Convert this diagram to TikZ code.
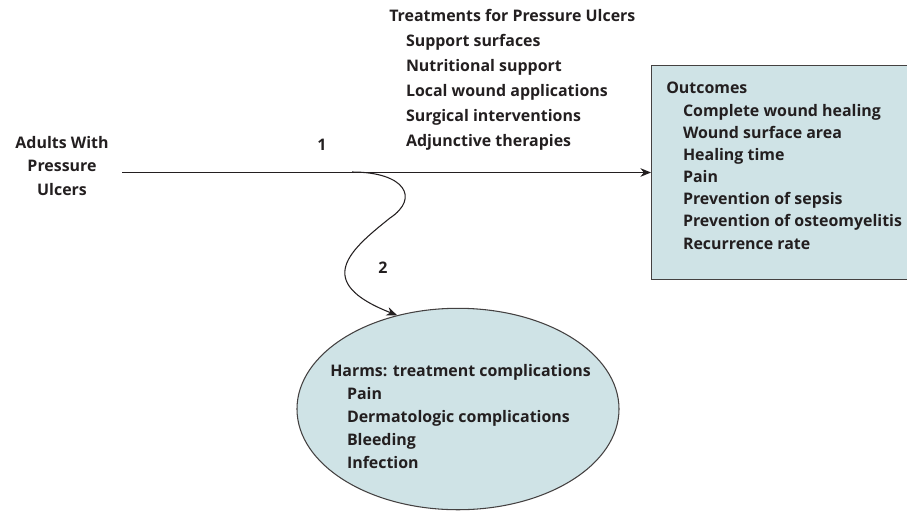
\documentclass[tikz,border=0pt]{standalone}
\usepackage{fontspec}
\setmainfont{Open Sans}
\usetikzlibrary{arrows.meta,shapes.geometric}
\definecolor{boxfill}{RGB}{207,227,230}
\definecolor{ink}{RGB}{35,31,32}
\tikzstyle{box}=[draw=ink!85, fill=boxfill, line width=0.8pt]
\tikzstyle{list}=[align=left, inner sep=0pt, anchor=north west, text=ink]
\tikzstyle{arr}=[-{Stealth[length=8pt,width=6.5pt]}, line width=0.8pt, draw=ink]
\newcommand{\subitm}[1]{\hspace*{1.05em}#1}
\newcommand{\txt}[1]{\fontsize{12}{#1}\selectfont\bfseries}

\begin{document}
\begin{tikzpicture}[x=0.02646cm, y=-0.02646cm]
	\useasboundingbox (0,0) rectangle (907,516);

	% population
	\node[align=center, text=ink, minimum width=3.18cm, inner sep=0pt, font=\txt{17.6}]
		(adults) at (62,166) {Adults With\\Pressure\\Ulcers};

	% treatments
	\node[list, font=\txt{18.8}] (treat) at (389,9)
		{Treatments for Pressure Ulcers\\
		 \subitm{Support surfaces}\\
		 \subitm{Nutritional support}\\
		 \subitm{Local wound applications}\\
		 \subitm{Surgical interventions}\\
		 \subitm{Adjunctive therapies}};

	% outcomes
	\node[box, anchor=north west, minimum width=6.99cm, minimum height=5.66cm]
		(outcomes) at (651,65) {};
	\node[list, font=\txt{16.7}] (outlist) at (666,82)
		{Outcomes\\
		 \subitm{Complete wound healing}\\
		 \subitm{Wound surface area}\\
		 \subitm{Healing time}\\
		 \subitm{Pain}\\
		 \subitm{Prevention of sepsis}\\
		 \subitm{Prevention of osteomyelitis}\\
		 \subitm{Recurrence rate}};

	% harms
	\node[box, ellipse, minimum width=8.52cm, minimum height=5.33cm]
		(harms) at (458,409) {};
	\node[list, font=\txt{17.4}] (harmlist) at (330,364)
		{Harms: treatment complications\\
		 \subitm{Pain}\\
		 \subitm{Dermatologic complications}\\
		 \subitm{Bleeding}\\
		 \subitm{Infection}};

	% key questions
	\node[text=ink, font=\txt{14}] (one) at (322,145) {1};
	\node[text=ink, font=\txt{14}] (two) at (383,268) {2};

	\coordinate (split) at (352,172);
	\draw[arr] (adults.east |- outcomes.west) -- (outcomes.west);
	\draw[arr] (split) .. controls (405,172) and (420,198) .. (390,218)
		.. controls (350,250) and (312,282) .. (harms.123);
\end{tikzpicture}
\end{document}
